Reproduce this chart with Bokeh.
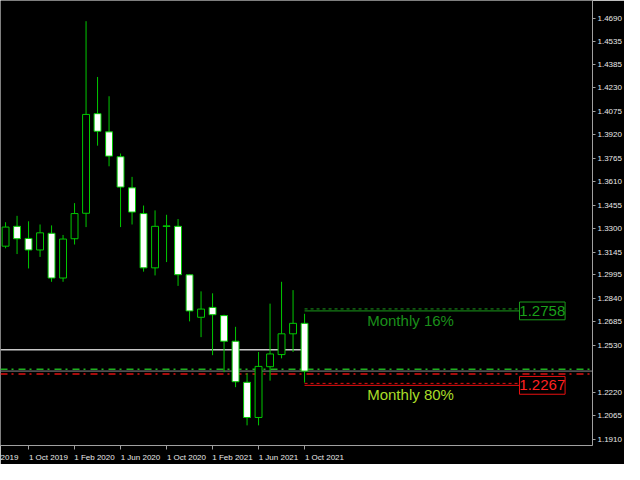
from bokeh.plotting import figure
from bokeh.models import Range1d, FixedTicker, PrintfTickFormatter, Label
from bokeh.core.properties import value
from bokeh.embed import file_html
from bokeh.resources import INLINE

# ---------------- data (USDCAD, monthly) ----------------
months = ["Aug 2019", "Sep 2019", "Oct 2019", "Nov 2019", "Dec 2019", "Jan 2020",
          "Feb 2020", "Mar 2020", "Apr 2020", "May 2020", "Jun 2020", "Jul 2020",
          "Aug 2020", "Sep 2020", "Oct 2020", "Nov 2020", "Dec 2020", "Jan 2021",
          "Feb 2021", "Mar 2021", "Apr 2021", "May 2021", "Jun 2021", "Jul 2021",
          "Aug 2021", "Sep 2021", "Oct 2021"]
opens = [1.3185, 1.3316, 1.3236, 1.3160, 1.3270, 1.2975,
         1.3234, 1.3402, 1.4059, 1.3939, 1.3775, 1.3570,
         1.3400, 1.3042, 1.3315, 1.3316, 1.2996, 1.2716,
         1.2781, 1.2727, 1.2558, 1.2287, 1.2055, 1.2390,
         1.2470, 1.2607, 1.2676]
highs = [1.3343, 1.3385, 1.3349, 1.3328, 1.3322, 1.3259,
         1.3469, 1.4669, 1.4301, 1.4174, 1.3796, 1.3642,
         1.3453, 1.3421, 1.3392, 1.3364, 1.2999, 1.2887,
         1.2874, 1.2733, 1.2653, 1.2348, 1.2487, 1.2806,
         1.2950, 1.2895, 1.2739]
lows = [1.3171, 1.3133, 1.3038, 1.3114, 1.2950, 1.2950,
        1.3196, 1.3311, 1.3848, 1.3712, 1.3311, 1.3328,
        1.3017, 1.2992, 1.3080, 1.2923, 1.2689, 1.2585,
        1.2466, 1.2354, 1.2255, 1.2003, 1.2003, 1.2298,
        1.2445, 1.2487, 1.2285]
closes = [1.3311, 1.3234, 1.3160, 1.3273, 1.2975, 1.3232,
          1.3400, 1.4054, 1.3943, 1.3779, 1.3575, 1.3410,
          1.3042, 1.3316, 1.3319, 1.2997, 1.2758, 1.2770,
          1.2733, 1.2558, 1.2291, 1.2055, 1.2392, 1.2474,
          1.2607, 1.2676, 1.2361]

price_ticks = [1.4690, 1.4535, 1.4385, 1.4230, 1.4075, 1.3920, 1.3765, 1.3610,
               1.3455, 1.3300, 1.3145, 1.2995, 1.2840, 1.2685, 1.2530, 1.2220,
               1.2065, 1.1910]
date_tick_labels = ["1 Jun 2019", "1 Oct 2019", "1 Feb 2020", "1 Jun 2020",
                    "1 Oct 2020", "1 Feb 2021", "1 Jun 2021", "1 Oct 2021"]
date_tick_index = [-2, 2, 6, 10, 14, 18, 22, 26]

current_price = 1.2361
level_names = ["Monthly 16%", "Monthly 80%"]
level_values = [1.2758, 1.2267]
level_labels = ["1.2758", "1.2267"]
trend_level = 1.2502
dashdot_levels = [1.2373, 1.2342]

# ---------------- layout ----------------
W, H = 624, 464
X0, X1 = -0.44, 51.04
Y0, Y1 = 1.18702, 1.48055
FRAME_W, FRAME_H = 595, 450
px_x = (X1 - X0) / FRAME_W      # data units per pixel (x)
px_y = (Y1 - Y0) / FRAME_H      # data units per pixel (y)

GREEN = "#00c800"
FONT = value("Liberation Sans")

p = figure(width=W, height=H, output_backend="svg", toolbar_location=None,
           x_range=Range1d(X0, X1), y_range=Range1d(Y0, Y1),
           y_axis_location="right", min_border_left=0, min_border_top=0,
           min_border_right=29, min_border_bottom=14)
p.background_fill_color = "black"
p.border_fill_color = "black"
p.outline_line_color = None
p.grid.visible = False

# x axis: labels left-aligned at their tick -> shift label centres; real ticks as minor ticks
label_shift = 20 * px_x
label_pos = []
label_txt = {}
for t, s in zip(date_tick_index, date_tick_labels):
    if t < X0:
        # label whose start is cut off by the left edge: only the year remains visible
        pos = X0 + 9 * px_x
        s = s.split()[-1]
    else:
        pos = t + label_shift
    label_pos.append(pos)
    label_txt[pos] = s
p.xaxis.ticker = FixedTicker(ticks=label_pos, minor_ticks=date_tick_index)
p.xaxis.major_label_overrides = label_txt
p.xaxis.major_tick_line_color = None
p.xaxis.major_tick_out = 0
p.xaxis.major_tick_in = 0
p.xaxis.minor_tick_out = 4
p.xaxis.minor_tick_in = 0
p.xaxis.minor_tick_line_color = "#a0a0a0"
p.xaxis.axis_line_color = "#a0a0a0"
p.xaxis.major_label_standoff = 3
p.xaxis.major_label_text_color = "#e8e8e8"
p.xaxis.major_label_text_font = "Liberation Sans"
p.xaxis.major_label_text_font_size = "8px"

p.yaxis.ticker = FixedTicker(ticks=price_ticks)
p.yaxis.formatter = PrintfTickFormatter(format="%.4f")
p.yaxis.axis_line_color = "#a0a0a0"
p.yaxis.major_tick_line_color = "#a0a0a0"
p.yaxis.major_tick_out = 3
p.yaxis.major_tick_in = 0
p.yaxis.minor_tick_line_color = None
p.yaxis.major_label_standoff = 2
p.yaxis.major_label_text_color = "#e8e8e8"
p.yaxis.major_label_text_font = "Liberation Sans"
p.yaxis.major_label_text_font_size = "8px"

idx = list(range(len(months)))

# horizontal lines
p.segment(x0=[X0], y0=[trend_level], x1=[idx[-1]], y1=[trend_level],
          line_color="#c8c8c8", line_width=1.5)
p.segment(x0=[X0], y0=[dashdot_levels[0]], x1=[X1], y1=[dashdot_levels[0]],
          line_color="#20b020", line_width=1.5, line_dash="7 4 2 5")
p.segment(x0=[X0], y0=[dashdot_levels[1]], x1=[X1], y1=[dashdot_levels[1]],
          line_color="#e01010", line_width=1.5, line_dash="7 4 2 5")
p.segment(x0=[X0], y0=[current_price], x1=[X1], y1=[current_price],
          line_color="#8a8a8a", line_width=1)

# candles
bull = [c >= o for o, c in zip(opens, closes)]
p.segment(x0=idx, y0=lows, x1=idx, y1=highs, line_color=GREEN, line_width=1)
p.vbar(x=idx, width=0.6,
       top=[max(o, c) for o, c in zip(opens, closes)],
       bottom=[min(o, c) for o, c in zip(opens, closes)],
       fill_color=["black" if b else "white" for b in bull],
       line_color=GREEN, line_width=1)

# monthly levels
lvl_x0 = idx[-1]
box_x0 = (535 * 0.975) * px_x + X0
box_x1 = (582 * 0.975) * px_x + X0
line_cols = ["#1a9a1a", "#e81010"]
name_cols = ["#1a8f1a", "#a8dc28"]
for v, lc in zip(level_values, line_cols):
    p.segment(x0=[lvl_x0], y0=[v], x1=[box_x0], y1=[v], line_color=lc, line_width=1)
    p.segment(x0=[lvl_x0], y0=[v + 2 * px_y], x1=[box_x0], y1=[v + 2 * px_y],
              line_color=lc, line_width=1, line_dash="3 3")
text_x = (378 * 0.975) * px_x + X0
p.text(x=[text_x, text_x],
       y=[level_values[0] - 1 * px_y, level_values[1] - 1 * px_y],
       text=level_names, text_color=name_cols, text_font=FONT,
       text_font_size="15px", text_baseline="top", text_align="left")
p.quad(left=[box_x0] * 2, right=[box_x1] * 2,
       top=[v + 9 * px_y for v in level_values],
       bottom=[v - 9 * px_y for v in level_values],
       fill_color="black", line_color=line_cols, line_width=1)
p.text(x=[(box_x0 + box_x1) / 2] * 2, y=level_values, text=level_labels,
       text_color=["#1aa01a", "#ff2020"], text_font=FONT, text_font_size="15px",
       text_baseline="middle", text_align="center")

# current price tag on the price scale
p.add_layout(Label(x=X1 + 1 * px_x, y=current_price, text="%.4f" % current_price,
                   text_font="Liberation Sans", text_font_size="8px",
                   text_color="black", text_baseline="middle", text_align="left",
                   background_fill_color="white", border_line_color="#c0c0c0",
                   padding=1))

open("out.html", "w").write(file_html(p, INLINE))
